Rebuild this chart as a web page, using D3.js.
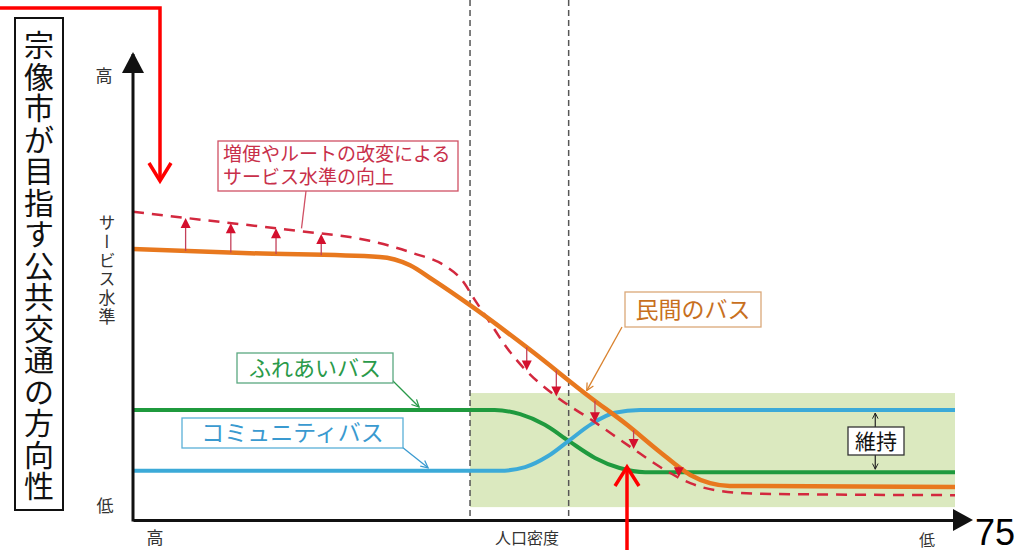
<!DOCTYPE html>
<html>
<head>
<meta charset="utf-8">
<script src="https://cdn.jsdelivr.net/npm/d3@7"></script>
<style>
  body { margin: 0; background: #fff; }
  svg { display: block; }
  text { font-family: "Noto Sans CJK JP", "Noto Sans", sans-serif; }
</style>
</head>
<body>
<script>
// population density on x (0 = high, 100 = low), service level on y (0 = low, 100 = high)
const minkanX = [0, 14.2, 30.0, 33.7, 36.5, 41.0, 48.3, 55.6, 60.1, 64.1, 67.8, 70.2, 72.6, 100];
const minkanY = [58.9, 58.0, 57.2, 55.4, 52.2, 46.7, 37.0, 26.7, 20.7, 14.8, 9.8, 8.0, 7.4, 7.2];

const targetX = [0, 10.6, 20.3, 28.8, 34.1, 38.0, 40.0, 41.6, 43.4, 45.5, 47.4, 51.6, 56.0, 60.5, 64.7, 67.8, 70.8, 76.3, 100];
const targetY = [67.0, 64.8, 62.8, 60.7, 58.0, 55.2, 52.2, 47.8, 43.0, 37.4, 33.3, 26.7, 21.5, 15.9, 10.9, 8.0, 6.5, 5.7, 5.4];

const fureaiX = [0, 44.0, 47.1, 50.1, 53.0, 56.2, 59.2, 62.3, 100];
const fureaiY = [23.9, 23.9, 23.0, 20.7, 17.2, 13.5, 11.3, 10.4, 10.4];

const communityX = [0, 44.6, 47.7, 50.5, 53.0, 55.8, 58.6, 61.7, 100];
const communityY = [10.7, 10.7, 11.5, 13.9, 17.2, 20.9, 23.3, 23.9, 23.9];

const upArrowX = [6.4, 11.9, 17.4, 22.9];
const downArrowX = [47.9, 51.5, 56.2, 60.9, 66.4];

const boundaryX = [41.0, 53.0];
const zoneX = [41.0, 100];
const zoneY = [2.8, 27.6];

const titleText = "宗像市が目指す公共交通の方向性";
const yAxisLabels = ["高", "サービス水準", "低"];
const xAxisLabels = ["高", "人口密度", "低"];

const W = 1021, H = 550;
const svg = d3.select("body").append("svg").attr("width", W).attr("height", H);

const defs = svg.append("defs");
function marker(id, color, w, h) {
  defs.append("marker").attr("id", id)
    .attr("viewBox", "0 0 10 10").attr("refX", 9).attr("refY", 5)
    .attr("markerWidth", w).attr("markerHeight", h).attr("orient", "auto-start-reverse")
    .attr("markerUnits", "userSpaceOnUse")
    .append("path").attr("d", "M1,1 L9,5 L1,9").attr("fill", "none")
    .attr("stroke", color).attr("stroke-width", 1.4);
}
marker("mOrange", "#d9822e", 9, 9);
marker("mGreen", "#2a9a4a", 9, 9);
marker("mBlue", "#3a9ad0", 9, 9);
marker("mBlack", "#222", 7, 7);

const x = d3.scaleLinear().domain([0, 100]).range([133, 955]);
const y = d3.scaleLinear().domain([0, 100]).range([520, 60]);

const line = d3.line().x(d => x(d[0])).y(d => y(d[1])).curve(d3.curveMonotoneX);

// green zone
svg.append("rect")
  .attr("x", x(zoneX[0])).attr("y", y(zoneY[1]))
  .attr("width", x(zoneX[1]) - x(zoneX[0]))
  .attr("height", y(zoneY[0]) - y(zoneY[1]))
  .attr("fill", "#dbe9bf");

// boundaries
svg.selectAll(".bound").data(boundaryX).enter().append("line")
  .attr("x1", d => x(d)).attr("x2", d => x(d))
  .attr("y1", 0).attr("y2", y(0))
  .attr("stroke", "#555").attr("stroke-width", 1.5).attr("stroke-dasharray", "6,4");

// lines
svg.append("path").datum(d3.zip(fureaiX, fureaiY)).attr("d", line)
  .attr("fill", "none").attr("stroke", "#1f9a3e").attr("stroke-width", 4);
svg.append("path").datum(d3.zip(communityX, communityY)).attr("d", line)
  .attr("fill", "none").attr("stroke", "#3caad8").attr("stroke-width", 4);
svg.append("path").datum(d3.zip(targetX, targetY)).attr("d", line)
  .attr("fill", "none").attr("stroke", "#d3283e").attr("stroke-width", 2.5)
  .attr("stroke-dasharray", "11,8");
svg.append("path").datum(d3.zip(minkanX, minkanY)).attr("d", line)
  .attr("fill", "none").attr("stroke", "#e8781e").attr("stroke-width", 4.5);

// change arrows between current and target
const minkanAt = d3.scaleLinear().domain(minkanX).range(minkanY);
const targetAt = d3.scaleLinear().domain(targetX).range(targetY);

function changeArrow(xv) {
  const px = x(xv), y0 = y(minkanAt(xv)), y1 = y(targetAt(xv));
  const dir = y1 < y0 ? -1 : 1;
  const g = svg.append("g");
  g.append("line").attr("x1", px).attr("x2", px).attr("y1", y0).attr("y2", y1 - dir * 8)
    .attr("stroke", "#c4405a").attr("stroke-width", 1.3);
  g.append("path")
    .attr("d", `M${px},${y1} L${px - 5},${y1 - dir * 10} L${px + 5},${y1 - dir * 10}Z`)
    .attr("fill", "#d4102e");
}
upArrowX.forEach(changeArrow);
downArrowX.forEach(changeArrow);

// axes
const xAxis = d3.axisBottom(x).tickValues([]).tickSizeOuter(0);
const yAxis = d3.axisLeft(y).tickValues([]).tickSizeOuter(0);
svg.append("g").attr("transform", `translate(0,${y(0)})`).call(xAxis)
  .select(".domain").attr("stroke", "#111").attr("stroke-width", 3);
svg.append("g").attr("transform", `translate(${x(0)},0)`).call(yAxis)
  .select(".domain").attr("stroke", "#111").attr("stroke-width", 3)
  .attr("d", `M0,${y(0) + 1.5}V${y(100) - 6}`);
svg.append("path").attr("d", `M${x(0)},52 L${x(0) - 11},73 L${x(0) + 11},73Z`).attr("fill", "#111");
svg.append("path").attr("d", `M973,${y(0)} L953,${y(0) - 11} L953,${y(0) + 11}Z`).attr("fill", "#111");

// axis labels
svg.append("text").attr("x", 104).attr("y", 82).attr("text-anchor", "middle")
  .attr("font-size", 17).attr("fill", "#333").text(yAxisLabels[0]);
svg.append("text").attr("x", 107).attr("y", 214)
  .style("writing-mode", "vertical-rl").style("letter-spacing", "1.8px")
  .attr("font-size", 17).attr("fill", "#333").text(yAxisLabels[1]);
svg.append("text").attr("x", 105).attr("y", 512).attr("text-anchor", "middle")
  .attr("font-size", 17).attr("fill", "#333").text(yAxisLabels[2]);
svg.append("text").attr("x", 155).attr("y", 544).attr("text-anchor", "middle")
  .attr("font-size", 17).attr("fill", "#333").text(xAxisLabels[0]);
svg.append("text").attr("x", 527).attr("y", 544).attr("text-anchor", "middle")
  .attr("font-size", 16).attr("fill", "#333").text(xAxisLabels[1]);
svg.append("text").attr("x", 927).attr("y", 546).attr("text-anchor", "middle")
  .attr("font-size", 16).attr("fill", "#333").text(xAxisLabels[2]);

// title box, one character per slot
svg.append("rect").attr("x", 15).attr("y", 18).attr("width", 48).attr("height", 492)
  .attr("fill", "none").attr("stroke", "#111").attr("stroke-width", 2);
svg.selectAll(".titleChar").data(Array.from(titleText)).enter().append("text")
  .attr("x", 39).attr("y", (d, i) => 43 + i * 31.5)
  .attr("text-anchor", "middle").attr("dominant-baseline", "central")
  .attr("font-size", 30).attr("fill", "#111").text(d => d);

// page number
svg.append("text").attr("x", 995).attr("y", 545).attr("text-anchor", "middle")
  .style("font-family", "'Liberation Sans', Arial, sans-serif")
  .attr("font-size", 36).attr("fill", "#000").text("75");

// callout helper
function callout(bx, by, bw, bh, stroke, color, fs, lines, left) {
  svg.append("rect").attr("x", bx).attr("y", by).attr("width", bw).attr("height", bh)
    .attr("fill", "#fff").attr("stroke", stroke).attr("stroke-width", 1.3);
  const t = svg.append("text").attr("font-size", fs).attr("fill", color)
    .attr("text-anchor", left ? "start" : "middle");
  const lh = fs * 1.2;
  lines.forEach((s, i) => {
    t.append("tspan").attr("x", left ? bx + left : bx + bw / 2)
      .attr("y", by + bh / 2 + (i - (lines.length - 1) / 2) * lh + fs * 0.36)
      .text(s);
  });
}

// 増便 callout with pointer to dashed line
svg.append("path").attr("d", `M306,191 L${x(20.5)},${y(targetAt(20.5)) - 3}`)
  .attr("stroke", "#d05064").attr("stroke-width", 1.3).attr("fill", "none");
callout(218, 141, 240, 50, "#d05064", "#c8304a", 19, ["増便やルートの改変による", "サービス水準の向上"], 5);

// 民間のバス
svg.append("line").attr("x1", 622).attr("y1", 327).attr("x2", x(55.2)).attr("y2", y(minkanAt(55.2)) - 4)
  .attr("stroke", "#d9822e").attr("stroke-width", 1.3).attr("marker-end", "url(#mOrange)");
callout(625, 292, 136, 35, "#dba878", "#c8701e", 23, ["民間のバス"]);

// ふれあいバス
svg.append("line").attr("x1", 392).attr("y1", 380).attr("x2", x(34.8)).attr("y2", y(fureaiY[0]) - 3)
  .attr("stroke", "#2a9a4a").attr("stroke-width", 1.3).attr("marker-end", "url(#mGreen)");
callout(237, 353, 156, 30, "#5aa880", "#2a9a4a", 22, ["ふれあいバス"]);

// コミュニティバス
svg.append("line").attr("x1", 402).attr("y1", 447).attr("x2", x(35.9)).attr("y2", y(communityY[0]) - 3)
  .attr("stroke", "#3a9ad0").attr("stroke-width", 1.3).attr("marker-end", "url(#mBlue)");
callout(182, 418, 221, 30, "#5ab0d8", "#3a9ad0", 23, ["コミュニティバス"]);

// 維持 double arrow
const keepX = 90.3;
svg.append("line").attr("x1", x(keepX)).attr("x2", x(keepX))
  .attr("y1", y(communityY[communityY.length - 1]) + 3).attr("y2", y(fureaiY[fureaiY.length - 1]) - 3)
  .attr("stroke", "#222").attr("stroke-width", 1.2)
  .attr("marker-start", "url(#mBlack)").attr("marker-end", "url(#mBlack)");
callout(848, 427, 56, 28, "#333", "#111", 21, ["維持"]);

// red pointers
svg.append("path").attr("d", "M0,8 H160 V180").attr("fill", "none")
  .attr("stroke", "#ff0000").attr("stroke-width", 3.5);
svg.append("path").attr("d", "M149,163 L160,181 L171,163").attr("fill", "none")
  .attr("stroke", "#ff0000").attr("stroke-width", 3.5).attr("stroke-linejoin", "miter");
svg.append("path").attr("d", "M627,552 V467").attr("fill", "none")
  .attr("stroke", "#ff0000").attr("stroke-width", 3.5);
svg.append("path").attr("d", "M615,486 L627,467 L639,486").attr("fill", "none")
  .attr("stroke", "#ff0000").attr("stroke-width", 3.5);
</script>
</body>
</html>
